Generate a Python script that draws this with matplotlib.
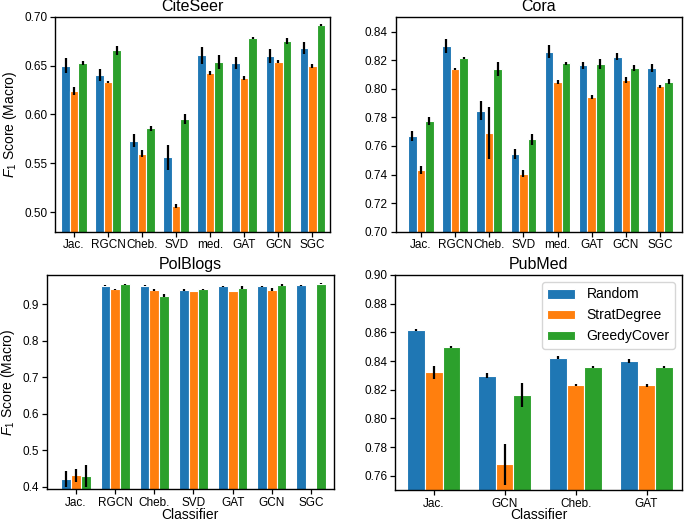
import numpy as np
import matplotlib
matplotlib.use('Agg')
import matplotlib.pyplot as plt

plt.rcParams['font.family'] = ['Liberation Sans', 'DejaVu Sans']
plt.rcParams['mathtext.fontset'] = 'custom'
plt.rcParams['mathtext.rm'] = 'Liberation Sans'
plt.rcParams['mathtext.it'] = 'Liberation Sans:italic'

methods = ['Random', 'StratDegree', 'GreedyCover']
colors = ['#1f77b4', '#ff7f0e', '#2ca02c']

# CiteSeer
citeseer_labels = ['Jac.', 'RGCN', 'Cheb.', 'SVD', 'med.', 'GAT', 'GCN', 'SGC']
citeseer_random = [0.650, 0.640, 0.573, 0.556, 0.6605, 0.6527, 0.660, 0.6677]
citeseer_random_err = [0.008, 0.0063, 0.0065, 0.0128, 0.0085, 0.006, 0.007, 0.006]
citeseer_strat = [0.624, 0.633, 0.560, 0.5064, 0.6424, 0.6373, 0.654, 0.6493]
citeseer_strat_err = [0.0045, 0.001, 0.004, 0.002, 0.002, 0.002, 0.0015, 0.002]
citeseer_greedy = [0.653, 0.6656, 0.5859, 0.5951, 0.654, 0.6782, 0.6755, 0.6912]
citeseer_greedy_err = [0.002, 0.0046, 0.0025, 0.005, 0.0072, 0.001, 0.003, 0.001]

# Cora
cora_labels = ['Jac.', 'RGCN', 'Cheb.', 'SVD', 'med.', 'GAT', 'GCN', 'SGC']
cora_random = [0.767, 0.830, 0.7847, 0.7542, 0.826, 0.8166, 0.8226, 0.8145]
cora_random_err = [0.0034, 0.005, 0.0066, 0.0035, 0.0046, 0.0025, 0.0025, 0.003]
cora_strat = [0.7433, 0.8139, 0.7691, 0.7407, 0.8049, 0.7942, 0.8061, 0.8019]
cora_strat_err = [0.003, 0.001, 0.018, 0.0025, 0.0015, 0.0015, 0.002, 0.001]
cora_greedy = [0.7775, 0.8213, 0.8138, 0.7647, 0.818, 0.8175, 0.8145, 0.8051]
cora_greedy_err = [0.003, 0.0007, 0.0047, 0.0038, 0.001, 0.0035, 0.002, 0.0015]

# PolBlogs (no StratDegree result for SGC)
polblogs_labels = ['Jac.', 'RGCN', 'Cheb.', 'SVD', 'GAT', 'GCN', 'SGC']
polblogs_random = [0.420, 0.951, 0.951, 0.938, 0.949, 0.949, 0.952]
polblogs_random_err = [0.022, 0.002, 0.002, 0.003, 0.002, 0.002, 0.001]
polblogs_strat = [0.431, 0.941, 0.939, 0.9365, 0.9365, 0.940, np.nan]
polblogs_strat_err = [0.017, 0.002, 0.002, 0.001, 0.001, 0.004, np.nan]
polblogs_greedy = [0.4293, 0.9548, 0.9227, 0.941, 0.9457, 0.953, 0.9567]
polblogs_greedy_err = [0.029, 0.001, 0.004, 0.002, 0.004, 0.002, 0.001]

# PubMed
pubmed_labels = ['Jac.', 'GCN', 'Cheb.', 'GAT']
pubmed_random = [0.8614, 0.8298, 0.8423, 0.840]
pubmed_random_err = [0.0008, 0.0015, 0.001, 0.0015]
pubmed_strat = [0.832, 0.7679, 0.8231, 0.823]
pubmed_strat_err = [0.0048, 0.0145, 0.0008, 0.0008]
pubmed_greedy = [0.8498, 0.8165, 0.836, 0.8358]
pubmed_greedy_err = [0.0008, 0.0084, 0.0007, 0.0008]

W, H = 685, 523
fig = plt.figure(figsize=(W / 100, H / 100), dpi=100)


def px_axes(left, top, right, bottom):
    return fig.add_axes([left / W, 1 - bottom / H, (right - left) / W, (bottom - top) / H])


def panel(ax, title, labels, vals, errs, ylim, yticks, fmt, xlim):
    x = np.arange(len(labels))
    bw = 0.25
    for i in range(3):
        ax.bar(x + (i - 1) * bw, vals[i], bw, yerr=errs[i], color=colors[i],
               edgecolor='white', linewidth=0.8, label=methods[i],
               error_kw=dict(ecolor='black', elinewidth=1.6, capsize=0))
    ax.set_xticks(x)
    ax.set_xticklabels(labels)
    ax.set_yticks(yticks)
    ax.set_yticklabels([fmt.format(t) for t in yticks])
    ax.set_ylim(ylim)
    ax.set_xlim(xlim)
    ax.set_title(title, fontsize=11.5, pad=4)
    ax.tick_params(labelsize=8.5, length=3.5, width=0.9, pad=2)
    for s in ax.spines.values():
        s.set_linewidth(1.0)


ax1 = px_axes(55, 16.7, 330, 231.7)
panel(ax1, 'CiteSeer', citeseer_labels,
      [citeseer_random, citeseer_strat, citeseer_greedy],
      [citeseer_random_err, citeseer_strat_err, citeseer_greedy_err],
      (0.48, 0.70), np.arange(0.50, 0.701, 0.05), '{:.2f}', (-0.56, 7.52))
ax1.set_ylabel('$F_1$ Score (Macro)', fontsize=10)

ax2 = px_axes(395.5, 16.7, 682, 231.7)
panel(ax2, 'Cora', cora_labels,
      [cora_random, cora_strat, cora_greedy],
      [cora_random_err, cora_strat_err, cora_greedy_err],
      (0.70, 0.8505), np.arange(0.70, 0.841, 0.02), '{:.2f}', (-0.74, 7.64))

ax3 = px_axes(46.7, 275, 334, 489.3)
panel(ax3, 'PolBlogs', polblogs_labels,
      [polblogs_random, polblogs_strat, polblogs_greedy],
      [polblogs_random_err, polblogs_strat_err, polblogs_greedy_err],
      (0.393, 0.98), np.arange(0.4, 0.91, 0.1), '{:.1f}', (-0.75, 6.59))
ax3.set_ylabel('$F_1$ Score (Macro)', fontsize=10)
ax3.set_xlabel('Classifier', fontsize=10, labelpad=-1)

ax4 = px_axes(395, 275, 682, 490)
panel(ax4, 'PubMed', pubmed_labels,
      [pubmed_random, pubmed_strat, pubmed_greedy],
      [pubmed_random_err, pubmed_strat_err, pubmed_greedy_err],
      (0.75, 0.90), np.arange(0.76, 0.901, 0.02), '{:.2f}', (-0.545, 3.5))
ax4.set_xlabel('Classifier', fontsize=10, labelpad=-1)
ax4.legend(loc='upper right', fontsize=10)

fig.savefig('out.png', dpi=100)
